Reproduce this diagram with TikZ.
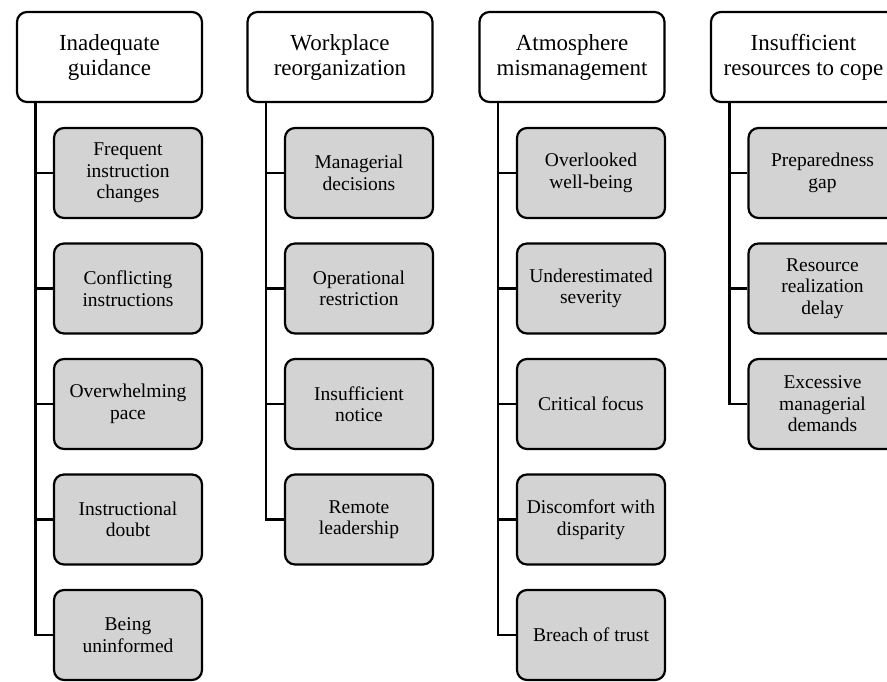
\documentclass[tikz,border=0pt]{standalone}
\usepackage{fontspec}
\setmainfont{Liberation Serif}
\definecolor{boxgray}{RGB}{211,211,211}
\tikzset{
  parentbox/.style={draw, rounded corners=10pt, line width=2.2pt, fill=white,
    minimum width=185pt, minimum height=90pt, align=center, inner sep=0pt,
    font=\fontsize{23}{25}\selectfont},
  childbox/.style={draw, rounded corners=10pt, line width=2.2pt, fill=boxgray,
    minimum width=148pt, minimum height=90pt, align=center, inner sep=0pt,
    font=\fontsize{19.5}{21.5}\selectfont},
  conn/.style={line width=2.6pt}
}
\begin{document}
\begin{tikzpicture}[x=1pt,y=-1pt]
\useasboundingbox (0,0) rectangle (887,681);
\clip (0,0) rectangle (887,681);
% column 1
\node[parentbox] (p1) at (109.5,57) {Inadequate\\guidance};
\node[childbox] (c11) at (128,173) {Frequent\\instruction\\changes};
\node[childbox] (c12) at (128,288.5) {Conflicting\\instructions};
\node[childbox] (c13) at (128,404) {Overwhelming\\pace};
\node[childbox] (c14) at (128,519.5) {Instructional\\doubt};
\node[childbox] (c15) at (128,635) {Being\\uninformed};
% column 2
\node[parentbox] (p2) at (340,57) {Workplace\\reorganization};
\node[childbox] (c21) at (359,173) {Managerial\\decisions};
\node[childbox] (c22) at (359,288.5) {Operational\\restriction};
\node[childbox] (c23) at (359,404) {Insufficient\\notice};
\node[childbox] (c24) at (359,519.5) {Remote\\leadership};
% column 3
\node[parentbox] (p3) at (572,57) {Atmosphere\\mismanagement};
\node[childbox] (c31) at (591,173) {Overlooked\\well-being};
\node[childbox] (c32) at (591,288.5) {Underestimated\\severity};
\node[childbox] (c33) at (591,404) {Critical focus};
\node[childbox] (c34) at (591,519.5) {Discomfort with\\disparity};
\node[childbox] (c35) at (591,635) {Breach of trust};
% column 4
\node[parentbox] (p4) at (803.5,57) {Insufficient\\resources to cope};
\node[childbox] (c41) at (822.5,173) {Preparedness\\gap};
\node[childbox] (c42) at (822.5,288.5) {Resource\\realization\\delay};
\node[childbox] (c43) at (822.5,404) {Excessive\\managerial\\demands};
% connectors
\coordinate (l1) at ([xshift=19.5pt]p1.south west);
\coordinate (l2) at ([xshift=19.5pt]p2.south west);
\coordinate (l3) at ([xshift=19.5pt]p3.south west);
\coordinate (l4) at ([xshift=19.5pt]p4.south west);
\draw[conn] (l1) |- (c15.west);
\foreach \c in {c11,c12,c13,c14} \draw[conn] (l1 |- \c.west) -- (\c.west);
\draw[conn] (l2) |- (c24.west);
\foreach \c in {c21,c22,c23} \draw[conn] (l2 |- \c.west) -- (\c.west);
\draw[conn] (l3) |- (c35.west);
\foreach \c in {c31,c32,c33,c34} \draw[conn] (l3 |- \c.west) -- (\c.west);
\draw[conn] (l4) |- (c43.west);
\foreach \c in {c41,c42} \draw[conn] (l4 |- \c.west) -- (\c.west);
\end{tikzpicture}
\end{document}
